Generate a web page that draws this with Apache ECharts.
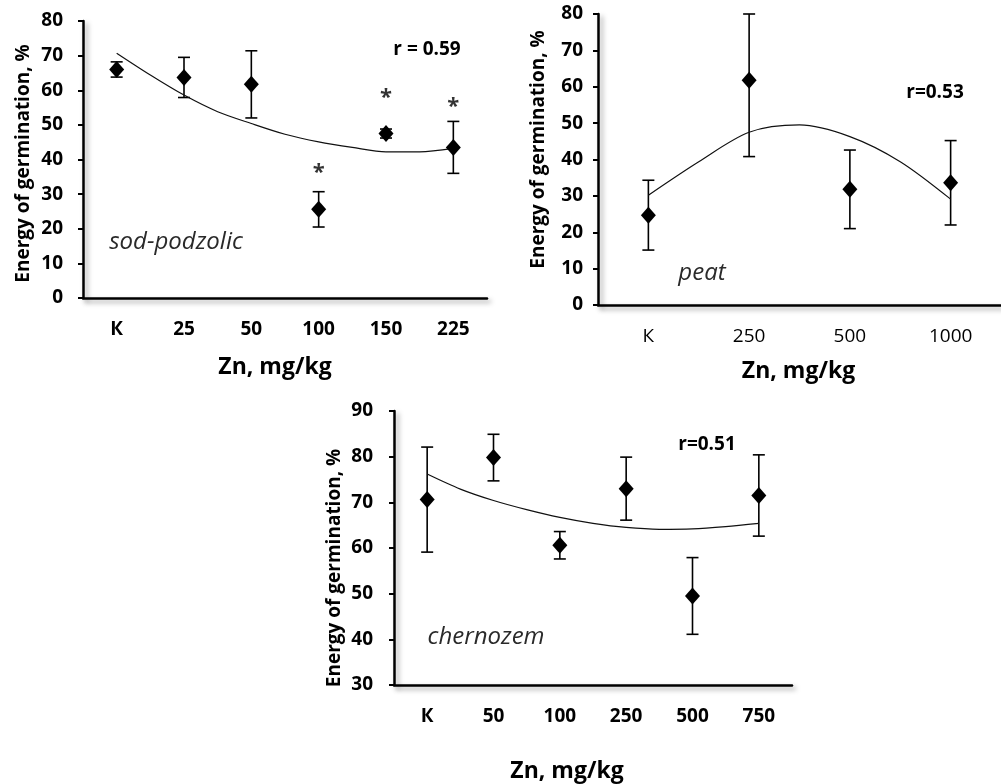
<!DOCTYPE html>
<html>
<head>
<meta charset="utf-8">
<script src="https://cdn.jsdelivr.net/npm/echarts@6/dist/echarts.min.js"></script>
<style>
  html, body { margin: 0; padding: 0; background: #fff; }
  #chart { width: 1001px; height: 784px; }
</style>
</head>
<body>
<div id="chart"></div>
<script>
// sod-podzolic soil
const sodDoses = ['К', '25', '50', '100', '150', '225']
const sodMean = [66, 63.7, 61.7, 25.6, 47.5, 43.5]
const sodErr = [2.2, 5.8, 9.7, 5.1, 1.3, 7.5]
const sodStars = [null, null, null, 37.5, 59.2, 56.6]
// trend curve every half category, from first to last dose
const sodTrend = [70.7, 64.4, 58.6, 53.8, 50.4, 47.3, 45.1, 43.5, 42.2, 42.2, 43.2]

// peat
const peatDoses = ['К', '250', '500', '1000']
const peatMean = [24.7, 61.8, 31.8, 33.6]
const peatErr = [9.6, 21, 10.8, 11.6]
const peatTrend = [30.2, 39.4, 47.5, 49.5, 46.3, 39.4, 29.1]

// chernozem
const chernDoses = ['К', '50', '100', '250', '500', '750']
const chernMean = [70.6, 79.8, 60.6, 73.0, 49.5, 71.5]
const chernErr = [11.5, 5.1, 3.0, 6.9, 8.4, 8.9]
const chernTrend = [76.2, 72.9, 70.4, 68.4, 66.7, 65.4, 64.5, 64.1, 64.2, 64.7, 65.4]

const yTitle = 'Energy of germination, %'
const xTitle = 'Zn, mg/kg'
const FONT = '"Open Sans", "DejaVu Sans", sans-serif'

const panels = [
  { doses: sodDoses, mean: sodMean, err: sodErr, trend: sodTrend, stars: sodStars,
    min: 0, max: 80, grid: { left: 83, top: 21, width: 404, height: 277 },
    xGap: 58, xPad: [0, 20, 0, 0], yGap: 50, yPad: [0, 8, 0, 0], yMargin: 20, xLabelWeight: 'bold' },
  { doses: peatDoses, mean: peatMean, err: peatErr, trend: peatTrend, stars: null,
    min: 0, max: 80, grid: { left: 598, top: 14, width: 412, height: 291 },
    xGap: 55, xPad: [0, 2, 0, 0], yGap: 50, yPad: [0, 0, 0, 20], yMargin: 15, xLabelWeight: 'normal' },
  { doses: chernDoses, mean: chernMean, err: chernErr, trend: chernTrend, stars: null,
    min: 30, max: 90, grid: { left: 394, top: 411, width: 398, height: 278 },
    xGap: 75, xPad: [0, 52, 0, 0], yGap: 50, yPad: [0, 40, 0, 0], yMargin: 21, xLabelWeight: 'bold' }
]

const axisShadow = { color: '#000', width: 2.5, shadowColor: 'rgba(0,0,0,0.35)', shadowBlur: 5, shadowOffsetX: 3, shadowOffsetY: 3 }

const errorBars = (ymax) => (params, api) => {
  const i = api.value(0)
  const m = api.value(1)
  const e = api.value(2)
  const top = api.coord([i, Math.min(m + e, ymax)])
  const bot = api.coord([i, m - e])
  const style = { stroke: '#000', lineWidth: 1.6 }
  return {
    type: 'group',
    children: [
      { type: 'line', shape: { x1: top[0], y1: top[1], x2: bot[0], y2: bot[1] }, style },
      { type: 'line', shape: { x1: top[0] - 6, y1: top[1], x2: top[0] + 6, y2: top[1] }, style },
      { type: 'line', shape: { x1: bot[0] - 6, y1: bot[1], x2: bot[0] + 6, y2: bot[1] }, style }
    ]
  }
}

const grid = []
const xAxis = []
const yAxis = []
const series = []

panels.forEach((p, g) => {
  grid.push(p.grid)
  xAxis.push({
    type: 'category', gridIndex: g, data: p.doses,
    axisLine: { onZero: false, lineStyle: axisShadow },
    axisTick: { length: 6, lineStyle: { color: '#000', width: 2 } },
    axisLabel: { color: '#000', fontFamily: FONT, fontSize: 19, fontWeight: p.xLabelWeight, margin: 22 },
    name: xTitle, nameLocation: 'middle', nameGap: p.xGap,
    nameTextStyle: { color: '#000', fontFamily: FONT, fontSize: 23, fontWeight: 'bold', padding: p.xPad }
  })
  // hidden value axis over the same span, used for the trend curve
  xAxis.push({ type: 'value', gridIndex: g, min: -0.5, max: p.doses.length - 0.5, show: false })
  yAxis.push({
    type: 'value', gridIndex: g, min: p.min, max: p.max, interval: 10,
    axisLine: { show: true, onZero: false, lineStyle: axisShadow },
    axisTick: { show: true, length: 5, lineStyle: { color: '#000', width: 2 } },
    splitLine: { show: false },
    axisLabel: { color: '#000', fontFamily: FONT, fontSize: 19, fontWeight: 'bold', margin: p.yMargin },
    name: yTitle, nameLocation: 'middle', nameGap: p.yGap,
    nameTextStyle: { color: '#000', fontFamily: FONT, fontSize: 19, fontWeight: 'bold', padding: p.yPad }
  })

  series.push({
    type: 'custom', xAxisIndex: g * 2, yAxisIndex: g,
    renderItem: errorBars(p.max), z: 2,
    encode: { x: 0, y: 1 },
    data: p.mean.map((m, i) => [i, m, p.err[i]])
  })
  series.push({
    type: 'line', xAxisIndex: g * 2 + 1, yAxisIndex: g, z: 3,
    smooth: 0.3, symbol: 'none',
    lineStyle: { color: '#111', width: 1.2 },
    data: p.trend.map((v, i) => [i / 2, v])
  })
  series.push({
    type: 'scatter', xAxisIndex: g * 2, yAxisIndex: g, z: 4,
    symbol: 'diamond', symbolSize: [15, 17],
    itemStyle: { color: '#000', opacity: 1 },
    data: p.mean.map((m, i) => [i, m])
  })
  if (p.stars) {
    series.push({
      type: 'scatter', xAxisIndex: g * 2, yAxisIndex: g, z: 4,
      symbolSize: 1, itemStyle: { color: 'rgba(0,0,0,0)' },
      label: { show: true, position: 'inside', formatter: '*', color: '#000', fontFamily: FONT, fontWeight: 'bold', fontSize: 22, offset: [0, 5] },
      data: p.stars.map((v, i) => (v == null ? null : [i, v])).filter(Boolean)
    })
  }
})

const note = (x, y, text, font, fill) => ({
  type: 'text', x, y,
  style: { text, font, fill, align: 'center', verticalAlign: 'middle' }
})

const option = {
  animation: false,
  backgroundColor: '#fff',
  grid, xAxis, yAxis, series,
  graphic: [
    note(427, 50, 'r = 0.59', 'bold 19px ' + FONT, '#000'),
    note(935, 93, 'r=0.53', 'bold 19px ' + FONT, '#000'),
    note(707, 445, 'r=0.51', 'bold 19px ' + FONT, '#000'),
    note(176, 242, 'sod-podzolic', 'italic 24px ' + FONT, '#2a2a2a'),
    note(702, 273, 'peat', 'italic 24px ' + FONT, '#2a2a2a'),
    note(486, 637, 'chernozem', 'italic 24px ' + FONT, '#2a2a2a')
  ]
}

const myChart = echarts.init(document.getElementById('chart'))
myChart.setOption(option)
</script>
</body>
</html>
